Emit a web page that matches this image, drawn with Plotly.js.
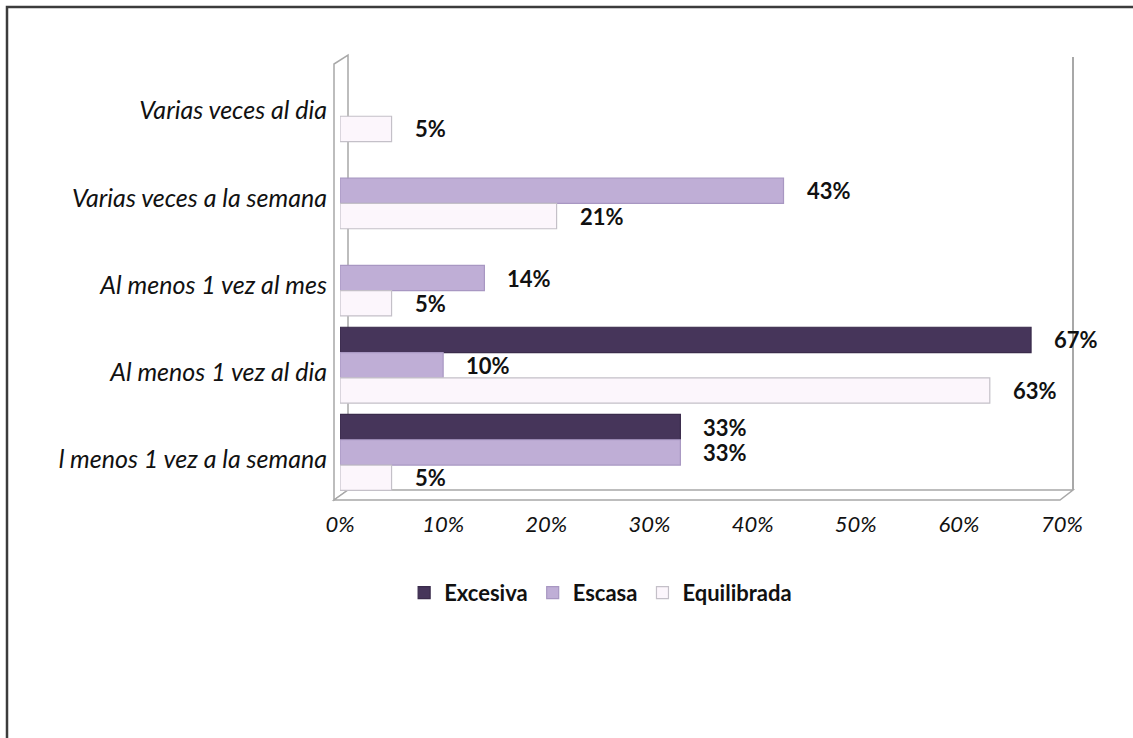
<!DOCTYPE html>
<html>
<head>
<meta charset="utf-8">
<script src="https://cdn.plot.ly/plotly-3.0.1.min.js"></script>
<style>html,body{margin:0;padding:0;background:#fff;}#chart{width:1133px;height:738px;}</style>
</head>
<body>
<div id="chart"></div>
<script>
const categories = ["Varias veces al dia", "Varias veces a la semana", "Al menos 1 vez al mes", "Al menos 1 vez al dia", "l menos 1 vez a la semana"];
const seriesNames = ["Excesiva", "Escasa", "Equilibrada"];
const excesiva = [null, null, null, 67, 33];
const escasa = [null, 43, 14, 10, 33];
const equilibrada = [5, 21, 5, 63, 5];
const xTickVals = [0, 10, 20, 30, 40, 50, 60, 70];
const xTickText = ["0%", "10%", "20%", "30%", "40%", "50%", "60%", "70%"];

const colors = ["#46355a", "#bfaed6", "#fcf6fc"];
const lineColors = ["#3a2b4b", "#a897c2", "#c4c0c8"];
const allValues = [excesiva, escasa, equilibrada];

const traces = allValues.map((vals, i) => ({
  type: "bar",
  orientation: "h",
  name: seriesNames[i],
  y: categories,
  x: vals,
  marker: {color: colors[i], line: {color: lineColors[i], width: 1.2}},
  hoverinfo: "x+y"
}));

const bargap = 0.13;
const slotPx = 87 * (1 - bargap) / 3;
const annotations = [];
allValues.forEach((vals, i) => {
  vals.forEach((v, j) => {
    if (v === null) return;
    annotations.push({
      x: v, y: categories[j], xref: "x", yref: "y",
      text: v + "%", showarrow: false, xanchor: "left", yanchor: "middle",
      xshift: 21, yshift: (1 - i) * slotPx,
      font: {family: "Lato, 'Open Sans', sans-serif", size: 22, weight: "bold", color: "#111"}
    });
  });
});

// plot area: x 340..1062 px, y 60..496 px
const pw = 722, ph = 436;
const px = p => (p - 340) / pw;
const py = p => (496 - p) / ph;

const shapes = [
  // outer frame (top + left)
  {type: "path", xref: "paper", yref: "paper",
   path: `M ${px(7)} ${py(745)} L ${px(7)} ${py(7)} L ${px(1140)} ${py(7)}`,
   line: {color: "#3c3c3c", width: 2.5}, layer: "below"},
  // left wall
  {type: "path", xref: "paper", yref: "paper",
   path: `M ${px(334)} ${py(500)} L ${px(334)} ${py(64)} L ${px(348)} ${py(55)} L ${px(348)} ${py(490)} Z`,
   fillcolor: "#ffffff", line: {color: "#a8a8a8", width: 1.5}, layer: "below"},
  // floor
  {type: "path", xref: "paper", yref: "paper",
   path: `M ${px(334)} ${py(500)} L ${px(1060)} ${py(500)} L ${px(1073)} ${py(490)} L ${px(348)} ${py(490)} Z`,
   fillcolor: "#ffffff", line: {color: "#a8a8a8", width: 1.5}, layer: "below"},
  // right wall edge
  {type: "line", xref: "paper", yref: "paper",
   x0: px(1073), x1: px(1073), y0: py(490), y1: py(57),
   line: {color: "#a8a8a8", width: 2}, layer: "below"}
];

const layout = {
  width: 1133, height: 738,
  margin: {l: 340, r: 71, t: 60, b: 242},
  paper_bgcolor: "#ffffff", plot_bgcolor: "rgba(0,0,0,0)",
  barmode: "group", bargap: bargap, bargroupgap: 0,
  showlegend: true,
  legend: {orientation: "h", x: 0.361, xanchor: "center", y: -0.222, yanchor: "middle",
    font: {family: "Lato, 'Open Sans', sans-serif", size: 22, weight: "bold", color: "#111"},
    itemclick: false},
  xaxis: {range: [0, 70], tickvals: xTickVals, ticktext: xTickText, showgrid: false, zeroline: false,
    showline: false, ticks: "outside", ticklen: 9, tickcolor: "rgba(0,0,0,0)",
    tickfont: {family: "Lato, 'Open Sans', sans-serif", size: 22, style: "italic", color: "#111"},
    fixedrange: true},
  yaxis: {autorange: "reversed", showgrid: false, zeroline: false, showline: false,
    ticks: "outside", ticklen: 7, tickcolor: "rgba(0,0,0,0)", ticklabelshift: -7,
    tickfont: {family: "Lato, 'Open Sans', sans-serif", size: 25, style: "italic", color: "#111"},
    fixedrange: true},
  annotations: annotations,
  shapes: shapes,
  font: {family: "Lato, sans-serif"}
};

Plotly.newPlot("chart", traces, layout, {displayModeBar: false, staticPlot: false});
</script>
</body>
</html>
